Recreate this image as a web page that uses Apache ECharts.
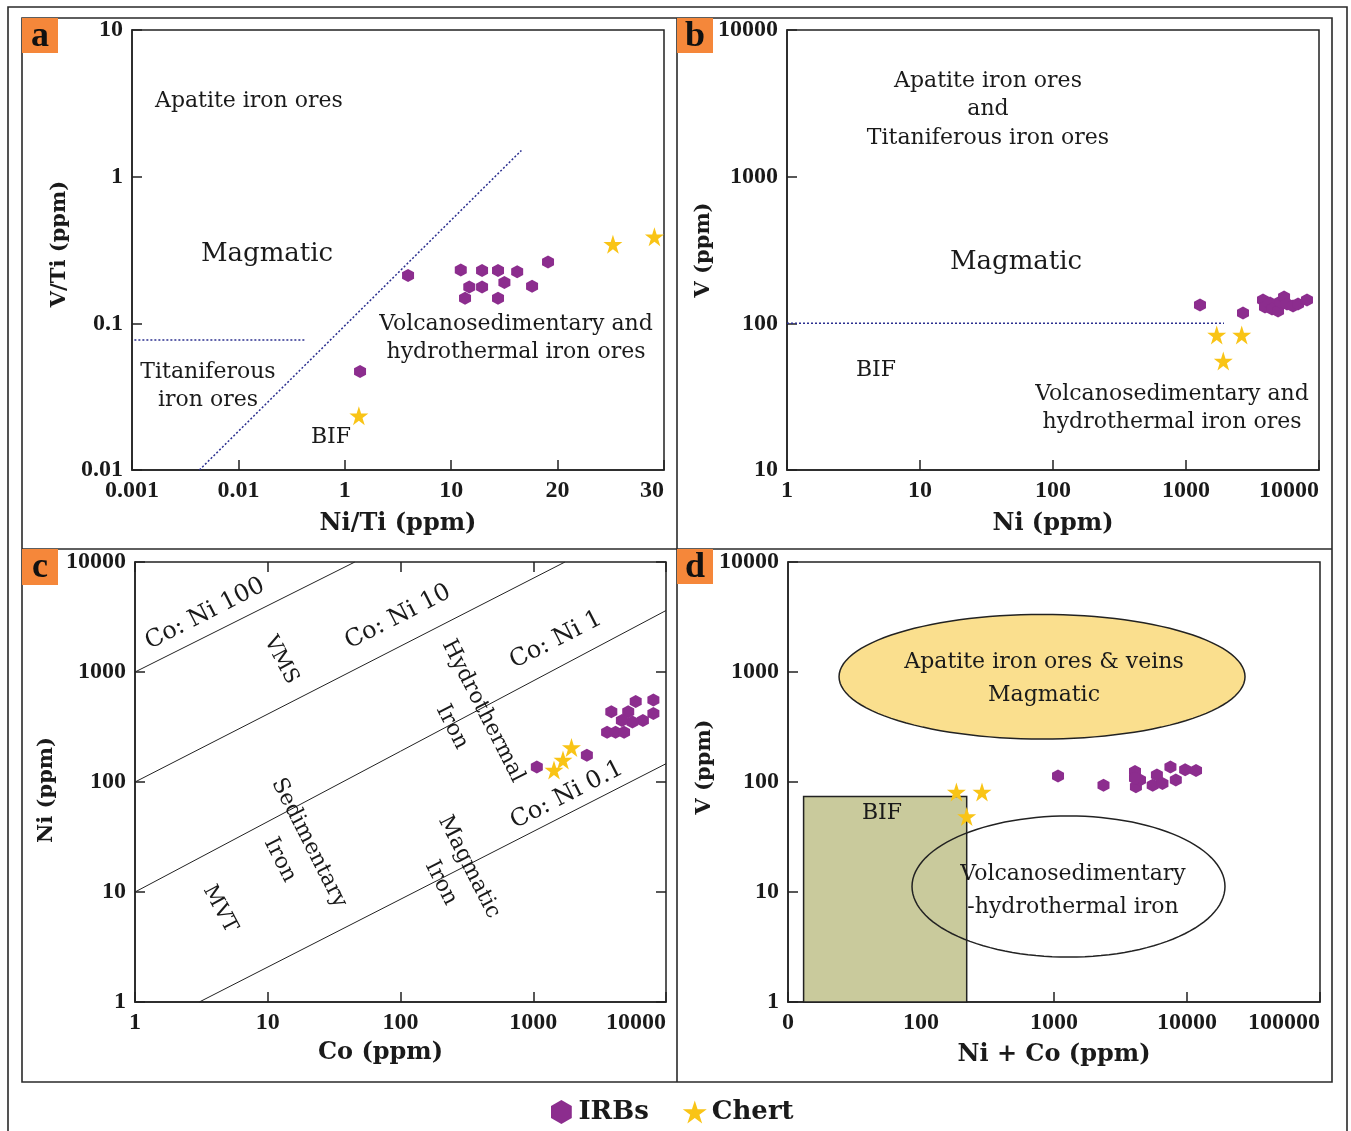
<!DOCTYPE html>
<html>
<head>
<meta charset="utf-8">
<script src="https://cdn.jsdelivr.net/npm/echarts@6/dist/echarts.min.js"></script>
<style>
html, body { margin: 0; padding: 0; background: #fff; }
#main { width: 1351px; height: 1131px; }
</style>
</head>
<body>
<div id="main"></div>
<script>
var HEX = 'path://M50,0 L93.3,25 L93.3,75 L50,100 L6.7,75 L6.7,25 Z';
var STAR = 'path://M50,0 L61.2,34.5 L97.6,34.5 L68.2,55.9 L79.4,90.5 L50,69.1 L20.6,90.5 L31.8,55.9 L2.4,34.5 L38.8,34.5 Z';
var PURPLE = '#8c2d8e', GOLD = '#f9c416', INK = '#1a1a1a';

// panel a : V/Ti vs Ni/Ti (x axis has uneven ticks)
var aTickValues = [0.001, 0.01, 1, 10, 20, 30];
var aTickLabels = ['0.001', '0.01', '1', '10', '20', '30'];
var irbNiTiA = [6.35, 10.9, 12.9, 14.4, 16.2, 19.1, 11.7, 12.9, 15.0, 17.6, 11.3, 14.4, 2.29];
var irbVTiA = [0.212, 0.231, 0.229, 0.229, 0.225, 0.262, 0.177, 0.177, 0.190, 0.179, 0.148, 0.148, 0.0469];
var chertNiTiA = [25.2, 29.1, 2.19];
var chertVTiA = [0.346, 0.389, 0.0234];
var aDiagonal = [[0.0067, 0.01], [16.6, 1.51]];
var aTitanLine = [[0.0012, 0.077], [0.64, 0.077]];

// panel b : V vs Ni
var irbNiB = [1274, 2683, 3793, 3925, 4283, 4433, 4920, 5097, 5461, 5744, 6378, 6955, 8121];
var irbVB = [133.5, 117.8, 144.4, 129.4, 137.8, 125.4, 121.6, 140, 151.4, 135.6, 131.5, 135.6, 144.4];
var chertNiB = [1702, 2624, 1907];
var chertVB = [83.3, 83.3, 55.4];
var bBifLine = [[1, 100], [1930, 100]];

// panel c : Ni vs Co
var irbCoC = [1064, 2535, 3873, 3600, 4168, 4831, 5192, 5912, 8035, 8035, 6698, 5583, 4652];
var irbNiC = [136.9, 175.2, 434.7, 283, 283, 283, 434.7, 538, 557.6, 419.6, 363, 351, 363];
var chertCoC = [1433, 1675, 1941];
var chertNiC = [128.6, 158.5, 206];
var coNi100 = [[1, 1000], [45.3, 10000]];
var coNi10 = [[1, 100], [1734, 10000]];
var coNi1 = [[1, 10], [10000, 3622]];
var coNi01 = [[3.05, 1], [10000, 146.6]];

// panel d : V vs Ni + Co
var irbNiCoD = [1072, 2356, 4064, 4130, 4432, 5521, 5939, 6537, 7506, 8241, 9682, 11690, 4064];
var irbVD = [113.4, 93.5, 124.6, 90.3, 104.2, 93.5, 115.8, 96.9, 136.9, 104.2, 129.1, 127.2, 107.9];
var chertNiCoD = [184.6, 287.5, 220.6];
var chertVD = [81.1, 81.1, 48.5];
var dBifBox = [13.1, 1, 220.6, 73.8];
var dApatiteEllipse = [24.2, 246, 27300, 3334];
var dVolcanoEllipse = [85.6, 2.56, 19300, 49.1];

function posA(v) {
    for (var i = 0; i < aTickValues.length - 1; i++) {
        if (v <= aTickValues[i + 1]) {
            return i + (v - aTickValues[i]) / (aTickValues[i + 1] - aTickValues[i]);
        }
    }
    return aTickValues.length - 1;
}
function zip(xs, ys, fx) {
    return xs.map(function (x, i) { return [fx ? fx(x) : x, ys[i]]; });
}
function num(v) { return String(parseFloat(Number(v).toPrecision(6))); }

var INK_FONT = { fontFamily: 'Liberation Serif', fontWeight: 'bold', fontSize: 24, color: INK };
function nameFont(size, pad) {
    return { fontFamily: 'DejaVu Serif', fontWeight: 'bold', fontSize: size, color: INK, padding: pad || 0 };
}

function axis(o) {
    var base = {
        axisLine: { show: true, lineStyle: { color: '#222', width: 1.5 } },
        axisTick: { show: true, inside: true, length: 10, lineStyle: { color: '#222', width: 1.5 } },
        axisLabel: { show: true, margin: 9, showMinLabel: true, showMaxLabel: true, formatter: num },
        splitLine: { show: false },
        minorTick: { show: false },
        nameLocation: 'middle',
        nameTextStyle: nameFont(24)
    };
    for (var k in o) {
        if (k === 'axisLabel') {
            for (var j in o[k]) base.axisLabel[j] = o[k][j];
        } else base[k] = o[k];
    }
    for (var f in INK_FONT) base.axisLabel[f] = INK_FONT[f];
    return base;
}

function scatter(name, gi, data, sym, size, color) {
    return {
        name: name, type: 'scatter', xAxisIndex: gi, yAxisIndex: gi, data: data,
        symbol: sym, symbolSize: size, itemStyle: { color: color, opacity: 1 }, z: 5, silent: true
    };
}
function boundary(gi, data, style) {
    return {
        type: 'line', xAxisIndex: gi, yAxisIndex: gi, data: data, symbol: 'none',
        lineStyle: style, z: 3, silent: true
    };
}
var dotted = { color: '#2b2f8f', width: 1.5, type: [2, 2] };
var thin = { color: '#222', width: 1 };

function ellipseItem(fill) {
    return function (params, api) {
        var p0 = api.coord([api.value(0), api.value(1)]);
        var p1 = api.coord([api.value(2), api.value(3)]);
        var cx = (p0[0] + p1[0]) / 2, cy = (p0[1] + p1[1]) / 2;
        var rx = Math.abs(p1[0] - p0[0]) / 2, ry = Math.abs(p1[1] - p0[1]) / 2;
        var pts = [];
        for (var i = 0; i < 120; i++) {
            var t = i / 120 * Math.PI * 2;
            pts.push([cx + rx * Math.cos(t), cy + ry * Math.sin(t)]);
        }
        return { type: 'polygon', shape: { points: pts }, style: { fill: fill, stroke: '#222', lineWidth: 1.5 } };
    };
}

function txt(s, x, y, size, rot, align, lh) {
    return {
        type: 'text', x: x, y: y, rotation: (rot || 0) * Math.PI / 180, z: 100,
        style: {
            text: s, fill: INK, font: 'normal ' + (size || 22) + 'px "DejaVu Serif"',
            textAlign: align || 'center', textVerticalAlign: 'middle', lineHeight: lh || 28
        }
    };
}
function letter(s, x, y, h) {
    return [
        { type: 'rect', shape: { x: x, y: y, width: 36, height: h }, style: { fill: '#f5873a' }, z: 90 },
        { type: 'text', x: x + 18, y: y + h / 2 + 1, z: 91, style: { text: s, fill: '#111', font: 'bold 36px "Liberation Serif"', textAlign: 'center', textVerticalAlign: 'middle' } }
    ];
}

var frameStroke = { fill: 'none', stroke: '#2a2a2a', lineWidth: 1.6 };
var graphics = [
    { type: 'rect', shape: { x: 8, y: 7, width: 1339, height: 1140 }, style: frameStroke, z: 80 },
    { type: 'rect', shape: { x: 22, y: 18, width: 1310, height: 1064 }, style: frameStroke, z: 80 },
    { type: 'line', shape: { x1: 677, y1: 18, x2: 677, y2: 1082 }, style: { stroke: '#2a2a2a', lineWidth: 1.6 }, z: 80 },
    { type: 'line', shape: { x1: 22, y1: 549, x2: 1332, y2: 549 }, style: { stroke: '#2a2a2a', lineWidth: 1.6 }, z: 80 },
    // panel a
    txt('Apatite iron ores', 155, 101, 22, 0, 'left'),
    txt('Magmatic', 267, 254, 26),
    txt('Titaniferous\niron ores', 208, 386, 22),
    txt('BIF', 331, 437, 22),
    txt('Volcanosedimentary and\nhydrothermal iron ores', 516, 338, 22),
    // panel b
    txt('Apatite iron ores\nand\nTitaniferous iron ores', 988, 109.5, 22, 0, 'center', 28.5),
    txt('Magmatic', 1016, 262, 26),
    txt('BIF', 876, 370, 22),
    txt('Volcanosedimentary and\nhydrothermal iron ores', 1172, 408, 22),
    // panel c
    txt('Co: Ni 100', 205, 614, 24, 27),
    txt('Co: Ni 10', 398, 617, 24, 27),
    txt('Co: Ni 1', 556, 640, 24, 27),
    txt('Co: Ni 0.1', 567, 795, 24, 27),
    txt('VMS', 281, 660, 21, -62),
    txt('Hydrothermal', 483, 711, 22, -63),
    txt('Iron', 452, 727, 22, -63),
    txt('Sedimentary', 309, 843, 22, -63),
    txt('Iron', 280, 860, 22, -63),
    txt('Magmatic', 469, 867, 22, -63),
    txt('Iron', 441, 883, 22, -63),
    txt('MVT', 220, 909, 21, -62),
    // panel d
    txt('Apatite iron ores & veins\nMagmatic', 1044, 678.5, 22, 0, 'center', 33),
    txt('BIF', 882, 813, 22),
    txt('Volcanosedimentary\n-hydrothermal iron', 1073, 890.5, 22, 0, 'center', 33)
].concat(letter('a', 22, 18, 35), letter('b', 677, 18, 35), letter('c', 22, 549, 36), letter('d', 677, 549, 35));

var chart = echarts.init(document.getElementById('main'));
function grid(l, t, w, h) {
    return { left: l, top: t, width: w, height: h, show: true, borderColor: '#222', borderWidth: 1.5,
        backgroundColor: 'transparent', outerBoundsMode: 'none', containLabel: false };
}

var option = {
    animation: false,
    backgroundColor: '#fff',
    grid: [grid(132, 30, 532, 440), grid(787, 30, 532, 440), grid(135, 562, 531, 440), grid(788, 562, 532, 440)],
    xAxis: [
        axis({ gridIndex: 0, type: 'value', min: 0, max: 5, interval: 1, name: 'Ni/Ti (ppm)', nameGap: 42,
            axisLabel: { alignMaxLabel: 'right', formatter: function (v) { return aTickLabels[Math.round(v)]; } } }),
        axis({ gridIndex: 1, type: 'log', logBase: 10, min: 1, max: 10000, name: 'Ni (ppm)', nameGap: 42,
            axisLabel: { alignMaxLabel: 'right' } }),
        axis({ gridIndex: 2, type: 'log', logBase: 10, min: 1, max: 10000, name: 'Co (ppm)', nameGap: 39,
            nameTextStyle: nameFont(24, [0, 40, 0, 0]), axisLabel: { alignMaxLabel: 'right' } }),
        axis({ gridIndex: 3, type: 'log', logBase: 10, min: 10, max: 100000, name: 'Ni + Co (ppm)', nameGap: 41,
            axisLabel: { alignMaxLabel: 'right', formatter: function (v) { return v === 10 ? '0' : num(v); } } }),
        axis({ gridIndex: 2, type: 'log', logBase: 10, min: 1, max: 10000, position: 'top', axisLine: { show: false }, axisLabel: { show: false } })
    ],
    yAxis: [
        axis({ gridIndex: 0, type: 'log', logBase: 10, min: 0.01, max: 10, name: 'V/Ti (ppm)', nameGap: 62,
            nameTextStyle: nameFont(21, [0, 0, 0, 12]) }),
        axis({ gridIndex: 1, type: 'log', logBase: 10, min: 10, max: 10000, name: 'V (ppm)', nameGap: 70,
            nameTextStyle: nameFont(21) }),
        axis({ gridIndex: 2, type: 'log', logBase: 10, min: 1, max: 10000, name: 'Ni (ppm)', nameGap: 78,
            nameTextStyle: nameFont(21, [0, 16, 0, 0]) }),
        axis({ gridIndex: 3, type: 'log', logBase: 10, min: 1, max: 10000, name: 'V (ppm)', nameGap: 70,
            nameTextStyle: nameFont(21, [0, 0, 0, 30]) }),
        axis({ gridIndex: 2, type: 'log', logBase: 10, min: 1, max: 10000, position: 'right', axisLine: { show: false }, axisLabel: { show: false } })
    ],
    legend: {
        data: [{ name: 'IRBs', icon: HEX }, { name: 'Chert', icon: STAR }],
        left: 546, top: 1094, itemWidth: 24, itemHeight: 24, itemGap: 34, selectedMode: false,
        textStyle: { fontFamily: 'DejaVu Serif', fontWeight: 'bold', fontSize: 26, color: INK }
    },
    graphic: graphics,
    series: [
        boundary(0, aDiagonal.map(function (p) { return [posA(p[0]), p[1]]; }), dotted),
        boundary(0, aTitanLine.map(function (p) { return [posA(p[0]), p[1]]; }), dotted),
        scatter('IRBs', 0, zip(irbNiTiA, irbVTiA, posA), HEX, [12, 13], PURPLE),
        scatter('Chert', 0, zip(chertNiTiA, chertVTiA, posA), STAR, 19, GOLD),

        boundary(1, bBifLine, dotted),
        scatter('IRBs', 1, zip(irbNiB, irbVB), HEX, [12, 13], PURPLE),
        scatter('Chert', 1, zip(chertNiB, chertVB), STAR, 19, GOLD),

        boundary(2, coNi100, thin),
        boundary(2, coNi10, thin),
        boundary(2, coNi1, thin),
        boundary(2, coNi01, thin),
        scatter('IRBs', 2, zip(irbCoC, irbNiC), HEX, [12, 13], PURPLE),
        scatter('Chert', 2, zip(chertCoC, chertNiC), STAR, 19, GOLD),

        { type: 'custom', xAxisIndex: 3, yAxisIndex: 3, silent: true, z: 1, encode: { x: [0, 2], y: [1, 3] },
          data: [dBifBox],
          renderItem: function (params, api) {
              var p0 = api.coord([api.value(0), api.value(1)]);
              var p1 = api.coord([api.value(2), api.value(3)]);
              return { type: 'rect', shape: { x: Math.min(p0[0], p1[0]), y: Math.min(p0[1], p1[1]),
                  width: Math.abs(p1[0] - p0[0]), height: Math.abs(p1[1] - p0[1]) },
                  style: { fill: '#c9ca9c', stroke: '#222', lineWidth: 1.5 } };
          } },
        { type: 'custom', xAxisIndex: 3, yAxisIndex: 3, silent: true, z: 2, encode: { x: [0, 2], y: [1, 3] },
          data: [dApatiteEllipse], renderItem: ellipseItem('#fadf8e') },
        { type: 'custom', xAxisIndex: 3, yAxisIndex: 3, silent: true, z: 2, encode: { x: [0, 2], y: [1, 3] },
          data: [dVolcanoEllipse], renderItem: ellipseItem('none') },
        scatter('IRBs', 3, zip(irbNiCoD, irbVD), HEX, [12, 13], PURPLE),
        scatter('Chert', 3, zip(chertNiCoD, chertVD), STAR, 19, GOLD)
    ]
};
chart.setOption(option);
</script>
</body>
</html>
